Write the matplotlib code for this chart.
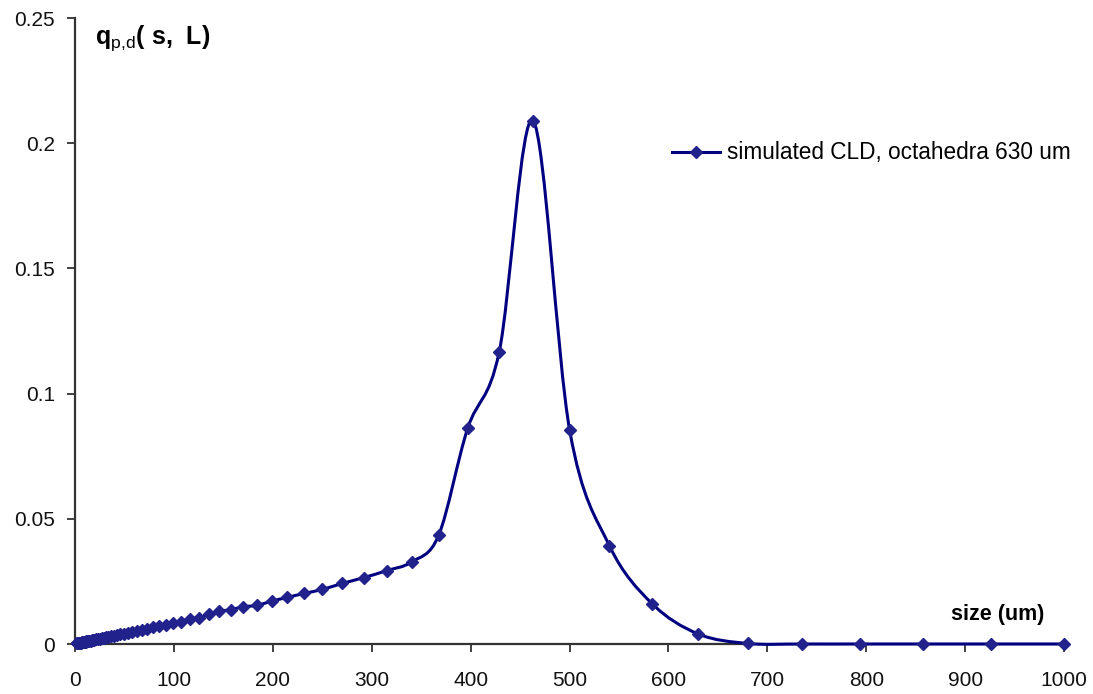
import matplotlib
matplotlib.use("Agg")
import matplotlib.pyplot as plt
from matplotlib.path import Path
from matplotlib.patches import PathPatch
from matplotlib.lines import Line2D
import numpy as np

plt.rcParams['font.family'] = ['Liberation Sans', 'DejaVu Sans']
plt.rcParams['mathtext.fontset'] = 'custom'
plt.rcParams['mathtext.rm'] = 'Liberation Sans'
plt.rcParams['mathtext.bf'] = 'Liberation Sans:bold'

size_um = [2.1, 2.3, 2.5, 2.7, 2.9, 3.1, 3.4, 3.6, 3.9, 4.2, 4.6, 4.9, 5.3, 5.8, 6.2,
           6.7, 7.3, 7.8, 8.5, 9.1, 9.9, 10.7, 11.5, 12.4, 13.4, 14.5, 15.7, 16.9,
           18.3, 19.7, 21.3, 23.0, 24.9, 26.9, 29.0, 31.3, 33.8, 36.5, 39.5, 42.6,
           46.0, 49.7, 53.7, 58.0, 62.6, 67.6, 73.0, 78.9, 85.2, 92.0, 99.4, 107.3,
           115.9, 125.2, 135.2, 146.0, 157.7, 170.3, 183.9, 198.7, 214.5, 231.7,
           250.2, 270.3, 291.9, 315.2, 340.5, 367.7, 397.1, 428.9, 463.2, 500.2,
           540.3, 583.5, 630.2, 680.6, 735.0, 793.8, 857.3, 925.9, 1000.0]
q_pd = [0.0002, 0.0002, 0.0002, 0.0002, 0.0002, 0.0003, 0.0003, 0.0003, 0.0003,
        0.0004, 0.0004, 0.0004, 0.0004, 0.0005, 0.0005, 0.0006, 0.0006, 0.0007,
        0.0007, 0.0008, 0.0008, 0.0009, 0.0010, 0.0010, 0.0011, 0.0012, 0.0013,
        0.0014, 0.0015, 0.0016, 0.0018, 0.0019, 0.0021, 0.0022, 0.0024, 0.0026,
        0.0028, 0.0030, 0.0033, 0.0035, 0.0038, 0.0041, 0.0044, 0.0048, 0.0052,
        0.0056, 0.0061, 0.0066, 0.0071, 0.0077, 0.0083, 0.0089, 0.0101, 0.0105,
        0.0118, 0.0131, 0.0137, 0.0149, 0.0154, 0.0171, 0.0186, 0.0202, 0.0218,
        0.0242, 0.0265, 0.0293, 0.0328, 0.0434, 0.0862, 0.1166, 0.2090, 0.0853,
        0.0393, 0.0161, 0.0040, 0.0002, 0.0, 0.0, 0.0, 0.0, 0.0]

x_ticks = [0, 100, 200, 300, 400, 500, 600, 700, 800, 900, 1000]
y_ticks = [0, 0.05, 0.1, 0.15, 0.2, 0.25]
y_tick_labels = ['0', '0.05', '0.1', '0.15', '0.2', '0.25']
series_label = 'simulated CLD, octahedra 630 um'

LINE = '#000080'
MARK = '#22228c'
W, H = 1093, 694

fig = plt.figure(figsize=(W/100, H/100), dpi=100)
ax = fig.add_axes([75/W, 50/H, 989/W, 626/H])
ax.set_xlim(0, 1000)
ax.set_ylim(0, 0.25)

# Excel-style smoothed line (Catmull-Rom Bezier through the data points)
xs = np.array(size_um); ys = np.array(q_pd)
n = len(xs)
verts = [(xs[0], ys[0])]
codes = [Path.MOVETO]
for i in range(n - 1):
    p0 = np.array([xs[max(i-1, 0)], ys[max(i-1, 0)]])
    p1 = np.array([xs[i], ys[i]])
    p2 = np.array([xs[i+1], ys[i+1]])
    p3 = np.array([xs[min(i+2, n-1)], ys[min(i+2, n-1)]])
    c1 = p1 + (p2 - p0) / 6.0
    c2 = p2 - (p3 - p1) / 6.0
    verts += [tuple(c1), tuple(c2), tuple(p2)]
    codes += [Path.CURVE4] * 3
path = Path(verts, codes)
ax.add_patch(PathPatch(path, facecolor='none', edgecolor=LINE, lw=2.2,
                       clip_on=False, zorder=3, capstyle='round', joinstyle='round'))
ax.plot(size_um, q_pd, linestyle='none', marker='D', markersize=6.3,
        color=MARK, markeredgecolor=MARK, clip_on=False, zorder=4)

for s in ['top', 'right']:
    ax.spines[s].set_visible(False)
for s in ['left', 'bottom']:
    ax.spines[s].set_linewidth(1.6)
    ax.spines[s].set_color('#333333')

ax.set_xticks(x_ticks)
ax.set_xticklabels([str(t) for t in x_ticks])
ax.set_yticks(y_ticks)
ax.set_yticklabels(y_tick_labels)
ax.tick_params(axis='both', direction='out', length=5.5, width=1.3, color='#333333',
               labelsize=15, labelcolor='#111111')
ax.tick_params(axis='x', pad=14)
ax.tick_params(axis='y', pad=9)

fig.text(95/W, 1 - 44/H, r'$\mathbf{q}_{\mathrm{p{,}d}}\mathbf{(\ s,\ L)}$',
         fontsize=18, ha='left', va='baseline')
fig.text(998/W, 1 - 620/H, 'size (um)', fontsize=15.5,
         fontweight='bold', ha='center', va='baseline')

handle = Line2D([], [], color=LINE, lw=2.2, marker='D', markersize=6.3,
                markerfacecolor=MARK, markeredgecolor=MARK)
ax.legend([handle], [series_label], loc='center left',
          bbox_to_anchor=(672/W, 1 - 153/H), bbox_transform=fig.transFigure,
          frameon=False, fontsize=16.3, handlelength=2.1, handletextpad=0.35,
          borderpad=0, borderaxespad=0)

fig.savefig('out.png', dpi=100)
